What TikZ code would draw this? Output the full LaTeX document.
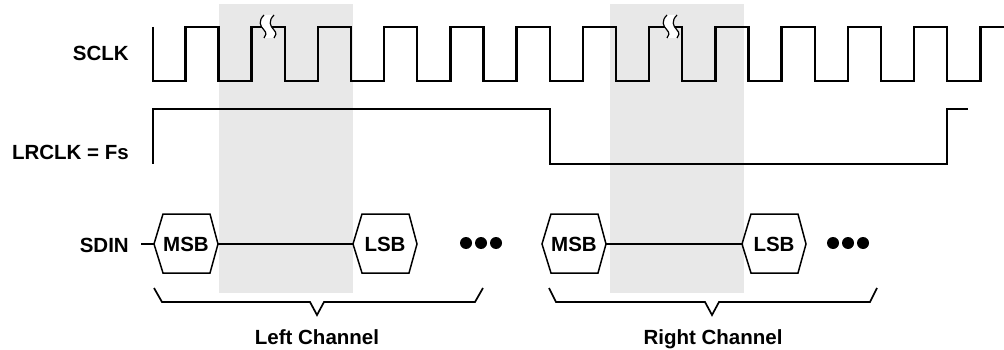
\documentclass[tikz,border=0pt]{standalone}
\usepackage{fontspec}
\setmainfont{Liberation Sans}
\begin{document}
\begin{tikzpicture}[x=1pt,y=-1pt,
  wave/.style={line width=2.4pt,line join=miter},
  thin/.style={line width=1.5pt},
  brace/.style={line width=1.7pt},
  lab/.style={font=\fontsize{20.5}{24}\selectfont\bfseries,inner sep=0pt},
  shade/.style={fill=black!9,draw=none}]
\useasboundingbox (0,0) rectangle (1004,350);
% shaded regions
\fill[shade] (219,4) rectangle (353,293);
\fill[shade] (610,4) rectangle (744,293);
% labels
\node[lab,anchor=base east] (sclk) at (129,61) {SCLK};
\node[lab,anchor=base east] (lrclk) at (129,160) {LRCLK = Fs};
\node[lab,anchor=base east] (sdin) at (129,252) {SDIN};
% SCLK waveform
\draw[wave] (153,27) -- (153,81)
  foreach \k in {0,...,11} {
    -- ({185.33+66.25*\k},81) -- ({185.33+66.25*\k},27)
    -- ({218.46+66.25*\k},27) -- ({218.46+66.25*\k},81) }
  -- (980.3,81) -- (980.3,27) -- (1004,27);
% break marks
\newcommand{\brkmark}[1]{%
  \fill[white] (#1,15) .. controls (#1-6,21) and (#1-4,26) .. (#1,30) .. controls (#1+3,33) and (#1+2,36) .. (#1,38)
     -- (#1+10,38) .. controls (#1+12,36) and (#1+13,33) .. (#1+10,30) .. controls (#1+6,26) and (#1+4,21) .. (#1+10,15) -- cycle;
  \draw[line width=1.2pt] (#1,15) .. controls (#1-6,21) and (#1-4,26) .. (#1,30) .. controls (#1+3,33) and (#1+2,36) .. (#1,38);
  \draw[line width=1.2pt] (#1+10,15) .. controls (#1+4,21) and (#1+6,26) .. (#1+10,30) .. controls (#1+13,33) and (#1+12,36) .. (#1+10,38);}
\brkmark{264}
\brkmark{667}
% LRCLK waveform
\draw[wave] (153,164) -- (153,109) -- (550,109) -- (550,164) -- (947,164) -- (947,109) -- (968,109);
% SDIN hexagons
\newcommand{\hexa}[3]{%
  \draw[thin] (#2,244) -- (#2+9,214) -- (#2+56,214) -- (#2+64,244) -- (#2+56,273) -- (#2+9,273) -- cycle;
  \coordinate (#1w) at (#2,244);
  \coordinate (#1e) at (#2+64,244);
  \node[lab,anchor=base] (#1) at (#2+32,251) {#3};}
\hexa{msbl}{154}{MSB}
\hexa{lsbl}{353}{LSB}
\hexa{msbr}{542}{MSB}
\hexa{lsbr}{742}{LSB}
\coordinate (sdinstart) at (141,244);
\draw[thin] (sdinstart) -- (msblw);
\draw[thin] (msble) -- (lsblw);
\draw[thin] (msbre) -- (lsbrw);
% dots
\foreach \x in {466,481,496,833,848,863} \fill (\x,243) circle (6);
% brackets
\draw[brace] (154,288) -- (162,302) -- (310,302) -- (317,315) -- (324,302) -- (475,302) -- (483,288);
\draw[brace] (549,288) -- (556,302) -- (705,302) -- (712,315) -- (719,302) -- (870,302) -- (877,288);
\node[lab,anchor=base] (leftch) at (317,344) {Left Channel};
\node[lab,anchor=base] (rightch) at (713,344) {Right Channel};
\end{tikzpicture}
\end{document}
